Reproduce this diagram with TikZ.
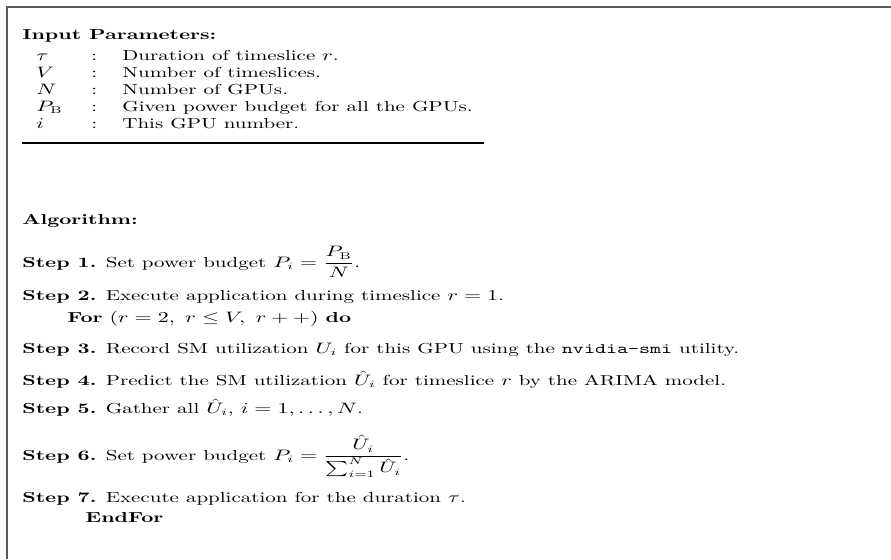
\documentclass[tikz,border=0pt]{standalone}
\usepackage{amsmath}
\usepackage{graphicx}
\newcommand{\sq}[1]{\scalebox{1}[0.69]{#1}}
\begin{document}
\begin{tikzpicture}[x=0.5pt,y=-0.5pt,
  txt/.style={anchor=base west,inner sep=0pt,font=\fontsize{10.5}{12}\selectfont},
  frame/.style={line width=0.9pt,draw=black!65},
  rulel/.style={line width=0.55pt,draw=black}]
\useasboundingbox (0,0) rectangle (891,559);
\coordinate (tr) at (891,7);
\coordinate (tl) at (7,7);
\coordinate (bl) at (7,559);
\draw[frame] (tr) -- (tl) -- (bl);
% input parameters
\node[txt] (hin) at (22,39) {\sq{\textbf{Input Parameters:}}};
\node[txt] (s1) at (36,60) {\sq{$\tau$}};
\node[txt] (c1) at (91,60) {\sq{:}};
\node[txt] (d1) at (122,60) {\sq{Duration of timeslice $r$.}};
\node[txt] (s2) at (36,77) {\sq{$V$}};
\node[txt] (c2) at (91,77) {\sq{:}};
\node[txt] (d2) at (122,77) {\sq{Number of timeslices.}};
\node[txt] (s3) at (36,94) {\sq{$N$}};
\node[txt] (c3) at (91,94) {\sq{:}};
\node[txt] (d3) at (122,94) {\sq{Number of GPUs.}};
\node[txt] (s4) at (36,111) {\sq{$P_{\mathrm{B}}$}};
\node[txt] (c4) at (91,111) {\sq{:}};
\node[txt] (d4) at (122,111) {\sq{Given power budget for all the GPUs.}};
\node[txt] (s5) at (36,128) {\sq{$i$}};
\node[txt] (c5) at (91,128) {\sq{:}};
\node[txt] (d5) at (122,128) {\sq{This GPU number.}};
\coordinate (rl) at (22,143);
\coordinate (rr) at (484,143);
\draw[rulel] (rl) -- (rr);
% algorithm
\node[txt] (halg) at (22,224) {\sq{\textbf{Algorithm:}}};
\node[txt] (st1) at (22,267) {\sq{\textbf{Step 1.} Set power budget $P_i=\dfrac{P_{\mathrm{B}}}{N}$.}};
\node[txt] (st2) at (22,300) {\sq{\textbf{Step 2.} Execute application during timeslice $r=1$.}};
\node[txt] (for) at (67,322) {\sq{\textbf{For} $(r=2,\ r\le V,\ r++)$ \textbf{do}}};
\node[txt] (st3) at (22,353) {\sq{\textbf{Step 3.} Record SM utilization $U_i$ for this GPU using the \texttt{nvidia-smi} utility.}};
\node[txt] (st4) at (22,385) {\sq{\textbf{Step 4.} Predict the SM utilization $\hat{U}_i$ for timeslice $r$ by the ARIMA model.}};
\node[txt] (st5) at (22,413) {\sq{\textbf{Step 5.} Gather all $\hat{U}_i$, $i=1,\ldots,N$.}};
\node[txt] (st6) at (22,460) {\sq{\textbf{Step 6.} Set power budget $P_i=\dfrac{\hat{U}_i}{\sum_{i=1}^{N}\hat{U}_i}$.}};
\node[txt] (st7) at (22,502) {\sq{\textbf{Step 7.} Execute application for the duration $\tau$.}};
\node[txt] (endf) at (85,522) {\sq{\textbf{EndFor}}};
\end{tikzpicture}
\end{document}
